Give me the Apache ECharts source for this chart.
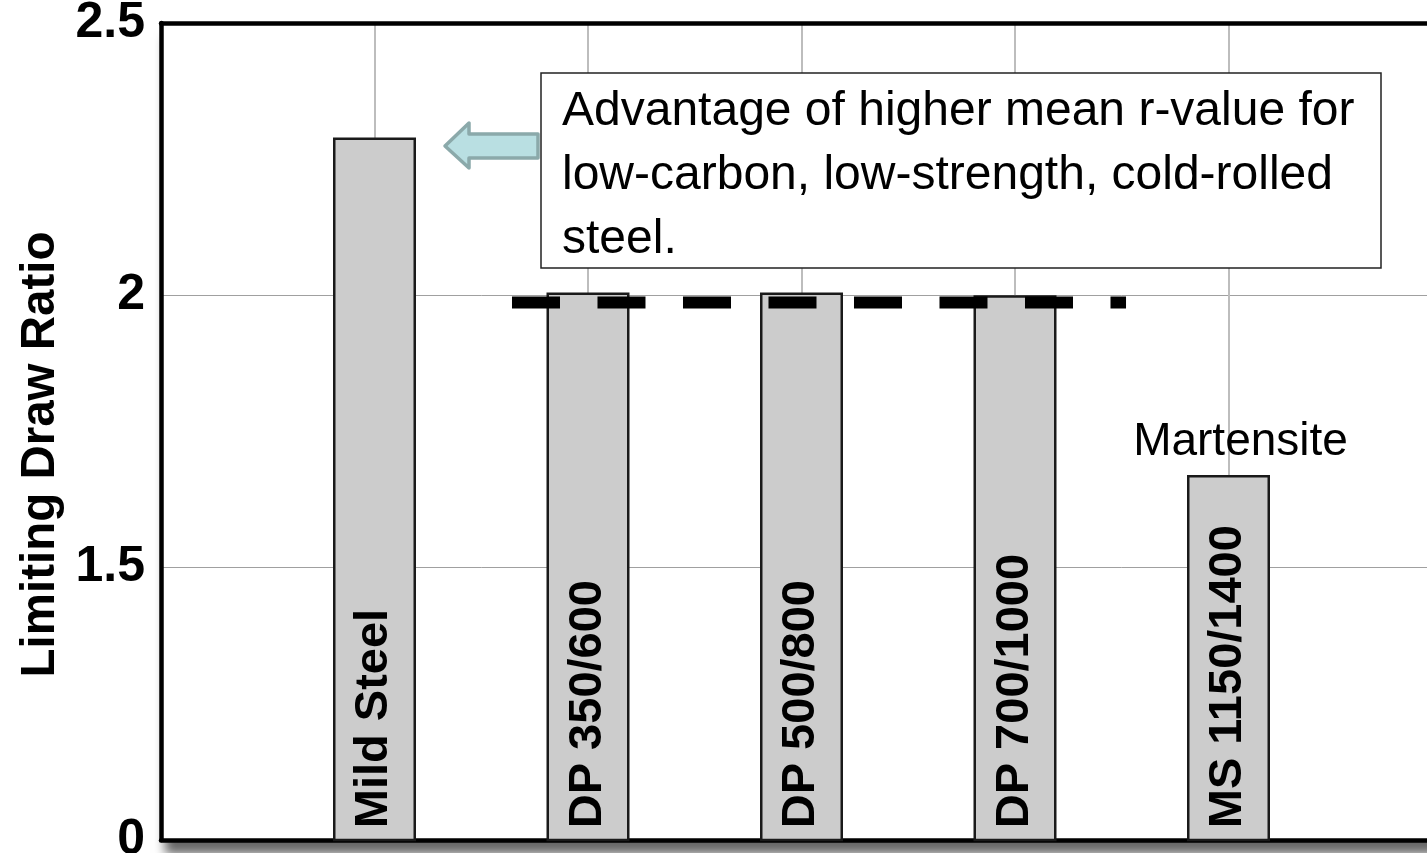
<!DOCTYPE html>
<html>
<head>
<meta charset="utf-8">
<script src="https://cdn.jsdelivr.net/npm/echarts@6/dist/echarts.min.js"></script>
<style>
  html, body { margin: 0; padding: 0; background: #fff; overflow: hidden; width: 1427px; height: 853px; }
  #chart { width: 1460px; height: 853px; }
</style>
</head>
<body>
<div id="chart"></div>
<script>
// ---- data ----
const categories = ['', 'Mild Steel', 'DP 350/600', 'DP 500/800', 'DP 700/1000', 'MS 1150/1400', ''];
const ldrValues = [null, 2.29, 2.005, 2.005, 2.0, 1.67, null];
// broken axis: the bottom of the axis (value 1) is labelled "0"
const yTickValues = [1, 1.5, 2, 2.5];
const yTickLabels = ['0', '1.5', '2', '2.5'];
// dashed reference level of the DP steels (x in category units)
const dpLevelX = [1.644, 4.52];
const dpLevelY = 1.987;
const annotationLines = [
  'Advantage of higher mean r-value for',
  'low-carbon, low-strength, cold-rolled',
  'steel.'
];
const martensiteLabel = 'Martensite';
const yAxisTitle = 'Limiting Draw Ratio';

const chart = echarts.init(document.getElementById('chart'), null, { renderer: 'canvas' });
const FONT = "'Liberation Sans', Arial, sans-serif";

const option = {
  animation: false,
  backgroundColor: '#fff',
  grid: {
    left: 161, right: 18, top: 23, bottom: 13,
    containLabel: false,
    outerBoundsMode: 'none',
    show: true,
    backgroundColor: '#fff',
    borderWidth: 0,
    shadowColor: 'rgba(0,0,0,0.6)',
    shadowBlur: 10,
    shadowOffsetX: 4,
    shadowOffsetY: 14
  },
  xAxis: [
    {
      type: 'category',
      data: categories,
      boundaryGap: false,
      position: 'bottom',
      axisLine: { show: true, lineStyle: { color: '#000', width: 4.5 } },
      axisTick: { show: false },
      axisLabel: { show: false },
      splitLine: { show: true, lineStyle: { color: '#bdbdbd', width: 2 } }
    },
    {
      type: 'value',
      min: 0, max: 6,
      position: 'top',
      axisLine: { show: true, lineStyle: { color: '#000', width: 4.5 } },
      axisTick: { show: false },
      axisLabel: { show: false },
      splitLine: { show: false }
    }
  ],
  yAxis: {
    type: 'value',
    min: 1, max: 2.5, interval: 0.5,
    axisLine: { show: true, lineStyle: { color: '#000', width: 4.5 } },
    axisTick: { show: false },
    splitLine: { show: true, lineStyle: { color: '#a0a0a0', width: 1 } },
    axisLabel: {
      color: '#000',
      fontFamily: FONT,
      fontWeight: 'bold',
      fontSize: 50,
      margin: 16,
      formatter: function (v) {
        const i = yTickValues.indexOf(v);
        return i >= 0 ? yTickLabels[i] : '';
      }
    },
    name: yAxisTitle,
    nameLocation: 'middle',
    nameRotate: 90,
    nameGap: 92,
    nameTextStyle: {
      color: '#000',
      fontFamily: FONT,
      fontWeight: 'bold',
      fontSize: 47.5,
      padding: [0, 46, 0, 0]
    }
  },
  series: [
    {
      type: 'bar',
      xAxisIndex: 0,
      data: ldrValues,
      barWidth: 83,
      z: 2,
      itemStyle: { color: '#cccccc', borderColor: '#1a1a1a', borderWidth: 2.5 },
      label: {
        show: true,
        position: 'insideBottom',
        distance: 13,
        rotate: 90,
        align: 'left',
        verticalAlign: 'middle',
        formatter: '{b}',
        color: '#000',
        fontFamily: FONT,
        fontWeight: 'bold',
        fontSize: 47
      },
      markPoint: {
        symbol: 'circle',
        symbolSize: 1,
        itemStyle: { color: 'rgba(0,0,0,0)' },
        label: {
          show: true,
          position: 'top',
          distance: 5,
          offset: [12, -4],
          color: '#000',
          fontFamily: FONT,
          fontSize: 46,
          formatter: martensiteLabel
        },
        data: [{ coord: [categories[5], ldrValues[5]], value: martensiteLabel }]
      }
    },
    {
      type: 'line',
      xAxisIndex: 1,
      data: [[dpLevelX[0], dpLevelY], [dpLevelX[1], dpLevelY]],
      showSymbol: false,
      symbol: 'none',
      z: 5,
      lineStyle: { color: '#000', width: 12, type: [48, 37.5], cap: 'butt' }
    }
  ],
  graphic: [
    {
      type: 'polygon',
      z: 100,
      shape: { points: [[445, 146], [469, 123], [469, 134], [538, 134], [538, 158], [469, 158], [469, 168]] },
      style: { fill: '#b9dfe2', stroke: '#8ba9aa', lineWidth: 3.5, lineJoin: 'round' }
    },
    {
      type: 'rect',
      z: 100,
      shape: { x: 541, y: 73, width: 840, height: 195 },
      style: { fill: '#fff', stroke: '#222', lineWidth: 1.5 }
    },
    {
      type: 'text',
      z: 101,
      style: {
        x: 562, y: 80,
        text: annotationLines.join('\n'),
        font: "48px 'Liberation Sans', Arial, sans-serif",
        lineHeight: 64,
        fill: '#000',
        textAlign: 'left',
        textVerticalAlign: 'top'
      }
    }
  ]
};
chart.setOption(option);
</script>
</body>
</html>
